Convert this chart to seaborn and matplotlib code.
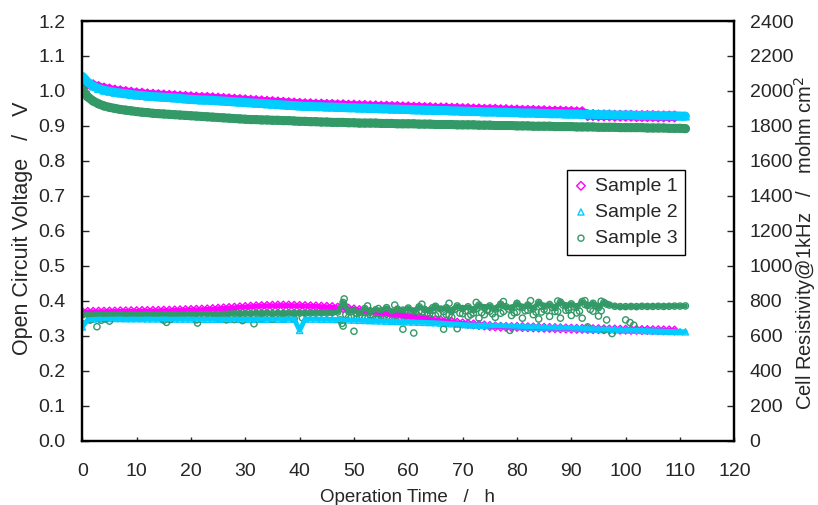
import numpy as np
import matplotlib
matplotlib.use('Agg')
import matplotlib.pyplot as plt
from matplotlib.ticker import FormatStrFormatter
import seaborn as sns

# operation time, one reading per hour
hours = list(range(0, 112))

# open circuit voltage / V
ocv_s1 = [
    1.030, 1.022, 1.016, 1.011, 1.007, 1.004, 1.001, 0.999, 0.997, 0.995,
    0.993, 0.992, 0.990, 0.989, 0.988, 0.987, 0.986, 0.985, 0.984, 0.983,
    0.982, 0.981, 0.980, 0.980, 0.979, 0.978, 0.977, 0.976, 0.975, 0.974,
    0.973, 0.972, 0.971, 0.970, 0.969, 0.968, 0.967, 0.966, 0.965, 0.964,
    0.963, 0.962, 0.962, 0.961, 0.961, 0.960, 0.960, 0.959, 0.959, 0.958,
    0.958, 0.957, 0.957, 0.956, 0.956, 0.955, 0.955, 0.954, 0.954, 0.953,
    0.953, 0.952, 0.952, 0.951, 0.951, 0.950, 0.950, 0.950, 0.949, 0.949,
    0.948, 0.948, 0.947, 0.947, 0.946, 0.946, 0.946, 0.945, 0.945, 0.944,
    0.944, 0.943, 0.943, 0.943, 0.942, 0.942, 0.941, 0.941, 0.941, 0.940,
    0.940, 0.939, 0.939, 0.931, 0.931, 0.930, 0.930, 0.930, 0.929, 0.929,
    0.929, 0.929, 0.928, 0.928, 0.928, 0.928, 0.927, 0.927, 0.927, 0.927,
]
ocv_s2 = [
    1.042, 1.025, 1.014, 1.007, 1.002, 0.999, 0.996, 0.994, 0.992, 0.990,
    0.988, 0.987, 0.985, 0.984, 0.983, 0.982, 0.981, 0.980, 0.979, 0.977,
    0.976, 0.975, 0.974, 0.974, 0.973, 0.972, 0.971, 0.970, 0.969, 0.968,
    0.967, 0.966, 0.965, 0.964, 0.963, 0.962, 0.961, 0.960, 0.959, 0.958,
    0.957, 0.956, 0.956, 0.955, 0.955, 0.954, 0.954, 0.953, 0.953, 0.952,
    0.952, 0.951, 0.951, 0.950, 0.950, 0.949, 0.949, 0.948, 0.948, 0.947,
    0.947, 0.946, 0.946, 0.945, 0.945, 0.944, 0.944, 0.944, 0.943, 0.943,
    0.942, 0.942, 0.941, 0.941, 0.940, 0.940, 0.940, 0.939, 0.939, 0.938,
    0.938, 0.937, 0.937, 0.937, 0.936, 0.936, 0.935, 0.935, 0.935, 0.934,
    0.934, 0.934, 0.933, 0.933, 0.933, 0.932, 0.932, 0.932, 0.931, 0.931,
    0.931, 0.931, 0.930, 0.930, 0.930, 0.930, 0.929, 0.929, 0.929, 0.929,
    0.928, 0.928,
]
ocv_s3 = [
    1.003, 0.983, 0.971, 0.963, 0.957, 0.953, 0.950, 0.947, 0.945, 0.943,
    0.941, 0.939, 0.938, 0.936, 0.935, 0.934, 0.933, 0.932, 0.931, 0.930,
    0.929, 0.928, 0.927, 0.926, 0.925, 0.924, 0.923, 0.922, 0.921, 0.920,
    0.919, 0.918, 0.918, 0.917, 0.917, 0.916, 0.916, 0.915, 0.915, 0.914,
    0.913, 0.913, 0.912, 0.912, 0.911, 0.911, 0.910, 0.910, 0.910, 0.909,
    0.909, 0.908, 0.908, 0.908, 0.908, 0.907, 0.907, 0.907, 0.906, 0.906,
    0.906, 0.906, 0.905, 0.905, 0.905, 0.904, 0.904, 0.904, 0.904, 0.903,
    0.903, 0.903, 0.903, 0.902, 0.902, 0.902, 0.901, 0.901, 0.901, 0.901,
    0.900, 0.900, 0.900, 0.899, 0.899, 0.899, 0.899, 0.898, 0.898, 0.898,
    0.898, 0.897, 0.897, 0.897, 0.897, 0.896, 0.896, 0.896, 0.896, 0.895,
    0.895, 0.895, 0.895, 0.895, 0.894, 0.894, 0.894, 0.894, 0.893, 0.893,
    0.893, 0.892,
]

# cell resistivity @1kHz / mohm cm2
res_s1 = [
    735, 736, 736, 737, 737, 738, 738, 739, 739, 740,
    740, 741, 741, 742, 742, 743, 743, 744, 745, 746,
    747, 748, 749, 750, 752, 754, 756, 758, 760, 762,
    764, 766, 768, 769, 770, 771, 772, 772, 772, 771,
    770, 769, 768, 767, 766, 765, 763, 760, 757, 754,
    750, 746, 742, 738, 734, 730, 726, 722, 718, 714,
    710, 706, 702, 698, 694, 690, 686, 682, 678, 674,
    670, 667, 664, 661, 658, 655, 653, 651, 650, 649,
    650, 649, 648, 647, 646, 645, 644, 643, 642, 641,
    640, 639, 639, 638, 637, 637, 636, 635, 635, 634,
    634, 633, 633, 632, 632, 631, 631, 630, 630, 629,
]
res_s2 = [
    650, 690, 695, 697, 698, 698, 698, 698, 697, 697,
    697, 697, 696, 696, 696, 696, 695, 695, 695, 695,
    695, 694, 694, 694, 694, 694, 694, 694, 694, 694,
    694, 694, 694, 694, 694, 694, 694, 694, 695, 695,
    630, 695, 695, 695, 694, 694, 693, 692, 691, 690,
    689, 688, 687, 686, 685, 684, 683, 682, 681, 680,
    679, 678, 677, 676, 675, 674, 672, 670, 668, 666,
    664, 662, 661, 660, 659, 658, 657, 656, 655, 654,
    653, 652, 651, 650, 649, 648, 647, 646, 645, 644,
    643, 642, 641, 640, 639, 638, 637, 636, 635, 634,
    633, 632, 631, 630, 629, 628, 627, 626, 625, 624,
    623, 622,
]
res_s3 = [
    718, 722, 720, 724, 721, 723, 722, 725, 721, 724,
    723, 722, 725, 724, 723, 726, 724, 725, 723, 726,
    725, 724, 727, 725, 726, 724, 727, 726, 728, 725,
    727, 726, 728, 727, 729, 726, 728, 727, 729, 728,
    729, 728, 730, 729, 731, 730, 732, 735, 790, 740,
    745, 732, 755, 738, 748, 742, 760, 735, 752, 746,
    758, 740, 765, 750, 745, 768, 752, 760, 742, 770,
    755, 765, 748, 775, 760, 770, 752, 780, 765, 758,
    785, 762, 775, 755, 790, 768, 778, 760, 792, 770,
    782, 765, 795, 772, 785, 760, 790, 775, 768, 766,
    766, 767, 766, 768, 767, 767, 768, 767, 768, 769,
    769, 770,
]
# extra scattered readings of sample 3 resistivity
res_s3_extra_t = [
    0.5, 1.5, 2.7, 3.5, 4.2, 5.0, 14.5, 15.0, 15.5, 16.2, 21.0, 21.2, 25.0,
    26.5, 28.0, 29.5, 31.6, 33.0, 35.0, 37.0, 39.0, 40.5, 47.5, 47.8, 48.0,
    48.2, 48.3, 49, 50, 51, 52, 53, 54, 55, 56, 57, 58, 59, 60, 61, 62, 63,
    64, 65, 66.5, 67, 68, 69, 70, 71, 72, 73, 74, 75, 76, 77, 78.7, 79, 80,
    81, 82, 83, 84, 85, 86, 87, 88, 89, 90, 91, 92, 93, 94, 95, 96, 96.5,
    97.5, 100.0, 100.8, 101.5, 52.5, 57.5, 62.5, 67.5, 72.5, 77.5, 82.5,
    87.5, 92.5, 95.5, 84.5, 89.5, 74.5, 64.5, 54.5,
]
res_s3_extra_v = [
    700, 690, 651, 688, 695, 683, 700, 688, 676, 692, 690, 672, 700,
    690, 692, 686, 668, 698, 694, 700, 696, 702, 690, 670, 655,
    810, 770, 705, 625, 712, 700, 720, 695, 715, 705, 690, 718, 637, 700, 615, 710, 725,
    698, 715, 637, 720, 705, 640, 725, 710, 730, 700, 720, 740, 705, 728, 630, 715, 735,
    700, 745, 720, 695, 750, 710, 738, 700, 745, 715, 730, 700, 650, 740, 712, 632, 690,
    612, 690, 675, 660, 770, 775, 780, 785, 790, 795, 800,
    798, 800, 797, 735, 760, 745, 760, 755,
]
# half-hour readings of sample 3 resistivity in the noisy stretch
res_s3_half_t = [
    48.5, 49.5, 50.5, 51.5, 52.5, 53.5, 54.5, 55.5, 56.5, 57.5,
    58.5, 59.5, 60.5, 61.5, 62.5, 63.5, 64.5, 65.5, 66.5, 67.5,
    68.5, 69.5, 70.5, 71.5, 72.5, 73.5, 74.5, 75.5, 76.5, 77.5,
    78.5, 79.5, 80.5, 81.5, 82.5, 83.5, 84.5, 85.5, 86.5, 87.5,
    88.5, 89.5, 90.5, 91.5, 92.5, 93.5, 94.5, 95.5, 96.5,
]
res_s3_half_v = [
    720, 705, 728, 710, 735, 715, 725, 708, 738, 718,
    730, 712, 742, 720, 735, 715, 745, 725, 738, 718,
    750, 728, 742, 720, 755, 732, 748, 725, 760, 738,
    752, 730, 765, 742, 758, 735, 770, 745, 762, 738,
    775, 748, 765, 740, 778, 750, 770, 742, 780,
]

names = ['Sample 1', 'Sample 2', 'Sample 3']
colors = ['#FF00FF', '#00CCFF', '#339966']
marks = ['D', '^', 'o']
FS = 14

sns.set_style('ticks')
plt.rcParams['font.family'] = ['Liberation Sans', 'DejaVu Sans']
plt.rcParams['font.size'] = FS

fig = plt.figure(figsize=(8.18, 5.05), dpi=100)
ax = fig.add_axes([0.1006, 0.1277, 0.7971, 0.8307])
ax2 = ax.twinx()

ocv = [ocv_s1, ocv_s2, ocv_s3]
res = [res_s1, res_s2, res_s3]
# dense readings merge into a solid band: thick trace + hollow markers
for name, c, m, v in zip(names, colors, marks, ocv):
    x = hours[:len(v)]
    sns.lineplot(x=x, y=v, ax=ax, color=c, linewidth=6.5, estimator=None)
    sns.scatterplot(x=x, y=v, ax=ax, marker=m, s=30, color=c,
                    facecolors='none', edgecolor=c, linewidth=1.0, label=name)
for name, c, m, v in zip(names, colors, marks, res):
    x = hours[:len(v)]
    sns.lineplot(x=x, y=v, ax=ax2, color=c, linewidth=3.5, estimator=None)
    sns.scatterplot(x=x, y=v, ax=ax2, marker=m, s=20, color=c,
                    facecolors='none', edgecolor=c, linewidth=1.0, legend=False)
for tx, vx in [(res_s3_extra_t, res_s3_extra_v), (res_s3_half_t, res_s3_half_v)]:
    sns.scatterplot(x=tx, y=vx, ax=ax2, marker='o', s=20, color=colors[2],
                    facecolors='none', edgecolor=colors[2], linewidth=1.0,
                    legend=False)

ax.set_xlim(0, 120)
ax.set_xticks(range(0, 121, 10))
ax.set_ylim(0, 1.2)
ax.set_yticks(np.arange(0, 1.21, 0.1))
ax.yaxis.set_major_formatter(FormatStrFormatter('%.1f'))
ax2.set_ylim(0, 2400)
ax2.set_yticks(range(0, 2401, 200))

ax.tick_params(axis='x', direction='in', length=3, width=1, pad=16, labelsize=FS)
ax.tick_params(axis='y', direction='in', length=5, width=1, pad=12, labelsize=FS,
               right=False)
ax2.tick_params(axis='y', direction='in', length=5, width=1, pad=11, labelsize=FS)
for a in (ax, ax2):
    for sp in a.spines.values():
        sp.set_linewidth(1.6)
        sp.set_color('black')

ax.set_xlabel('Operation Time   /   h', fontsize=13.5)
ax.set_ylabel('Open Circuit Voltage   /   V', fontsize=15.5)
ax2.set_ylabel('Cell Resistivity@1kHz   /   mohm cm$^2$', fontsize=14.5)
ax.xaxis.set_label_coords(0.498, -0.116)
ax.yaxis.set_label_coords(-0.076, 0.505)
ax2.yaxis.set_label_coords(1.088, 0.47)

leg = ax.legend(loc='upper left', bbox_to_anchor=(0.743, 0.645), frameon=True,
                fancybox=False, framealpha=1, edgecolor='black', markerscale=0.8,
                handlelength=0.7, handletextpad=0.38, labelspacing=0.44,
                borderpad=0.38, borderaxespad=0, fontsize=FS)
leg.get_frame().set_linewidth(1)
leg.set_zorder(10)
ax.set_zorder(ax2.get_zorder() + 1)
ax.patch.set_visible(False)

fig.savefig('out.png', dpi=100)
